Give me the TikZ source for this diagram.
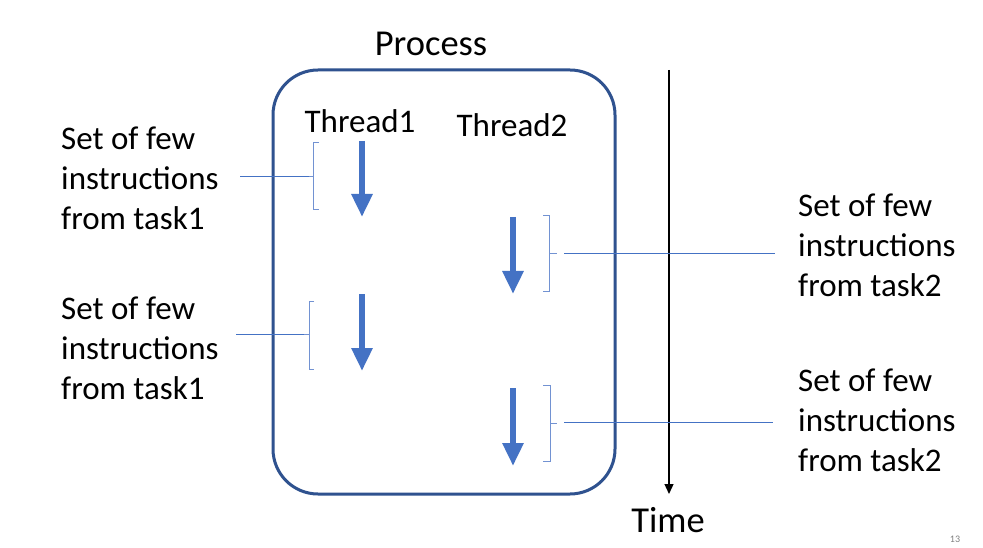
\documentclass[tikz,border=0pt]{standalone}
\usepackage{fontspec}
\setmainfont{Carlito}
\usetikzlibrary{arrows.meta}

\definecolor{boxblue}{RGB}{47,82,143}
\definecolor{arrowblue}{RGB}{68,114,196}
\definecolor{bracketblue}{RGB}{114,146,210}

\tikzset{
  label text/.style={inner sep=0pt, font=\fontsize{33}{40}\selectfont},
  title text/.style={inner sep=0pt, font=\fontsize{36.5}{44}\selectfont},
  task text/.style={label text, anchor=west, align=left},
  thread arrow/.style={color=arrowblue, line width=6pt, -{Triangle[width=20pt,length=23pt]}},
  bracket/.style={color=bracketblue, line width=0.9pt},
  pointer/.style={color=arrowblue, line width=0.9pt},
}

\begin{document}
\begin{tikzpicture}[scale=1.000000,x=1pt,y=-1pt]
\useasboundingbox[fill=white] (0.000000, 0.000000) rectangle (983.000000, 548.000000);
% Drawing process box
\node[title text] (process) at (431.000000, 44.000000) {Process};
\draw[color=boxblue, line width=3pt, rounded corners=45pt] (273.000000, 70.000000) rectangle (615.000000, 494.000000);
\node[label text] (thread1) at (360.000000, 121.000000) {Thread1};
\node[label text] (thread2) at (512.000000, 125.000000) {Thread2};
% Drawing time axis
\coordinate (timetop) at (669.000000, 70.000000);
\coordinate (timebot) at (669.000000, 494.000000);
\draw[color=black, line width=1.3pt, -{Triangle[width=9pt,length=10pt]}] (timetop) -- (timebot);
\node[title text] (time) at (668.000000, 520.000000) {Time};
% Drawing thread arrows
% Line 1: thread1 first
\coordinate (a1s) at (362.000000, 141.000000);
\coordinate (a1e) at (362.000000, 217.000000);
\draw[thread arrow] (a1s) -- (a1e);
% Line 2: thread1 second
\coordinate (a2s) at (362.000000, 294.000000);
\coordinate (a2e) at (362.000000, 371.000000);
\draw[thread arrow] (a2s) -- (a2e);
% Line 3: thread2 first
\coordinate (a3s) at (513.000000, 217.000000);
\coordinate (a3e) at (513.000000, 294.000000);
\draw[thread arrow] (a3s) -- (a3e);
% Line 4: thread2 second
\coordinate (a4s) at (513.000000, 388.000000);
\coordinate (a4e) at (513.000000, 466.000000);
\draw[thread arrow] (a4s) -- (a4e);
% Done with arrows; drawing brackets
% Line 5: task1 first
\coordinate (b1) at (309.000000, 176.000000);
\draw[bracket] (319.000000, 142.000000) -- (313.000000, 142.000000) -- (313.000000, 209.000000) -- (319.000000, 209.000000);
\draw[bracket] (313.000000, 176.000000) -- (b1);
% Line 6: task1 second
\coordinate (b2) at (304.000000, 334.000000);
\draw[bracket] (314.000000, 301.000000) -- (309.000000, 301.000000) -- (309.000000, 369.000000) -- (314.000000, 369.000000);
\draw[bracket] (309.000000, 334.000000) -- (b2);
% Line 7: task2 first
\coordinate (b3) at (557.000000, 253.000000);
\draw[bracket] (543.000000, 215.000000) -- (549.000000, 215.000000) -- (549.000000, 291.000000) -- (543.000000, 291.000000);
\draw[bracket] (549.000000, 253.000000) -- (b3);
% Line 8: task2 second
\coordinate (b4) at (557.000000, 423.000000);
\draw[bracket] (543.000000, 385.000000) -- (550.000000, 385.000000) -- (550.000000, 461.000000) -- (543.000000, 461.000000);
\draw[bracket] (550.000000, 423.000000) -- (b4);
% Done with brackets; drawing task labels
\node[task text] (task1a) at (61.000000, 178.000000) {Set of few\\instructions\\from task1};
\node[task text] (task1b) at (61.000000, 348.000000) {Set of few\\instructions\\from task1};
\node[task text] (task2a) at (798.000000, 245.000000) {Set of few\\instructions\\from task2};
\node[task text] (task2b) at (798.000000, 420.000000) {Set of few\\instructions\\from task2};
% Drawing pointers
\coordinate (p1) at (240.000000, 176.000000);
\draw[pointer] (p1) -- (b1);
\coordinate (p2) at (236.000000, 334.000000);
\draw[pointer] (p2) -- (b2);
\coordinate (p3s) at (564.000000, 253.000000);
\coordinate (p3e) at (775.000000, 253.000000);
\draw[pointer] (p3s) -- (p3e);
\coordinate (p4s) at (564.000000, 422.000000);
\coordinate (p4e) at (773.000000, 422.000000);
\draw[pointer] (p4s) -- (p4e);
% Done with pointers
\node[inner sep=0pt, color=gray, font=\fontsize{10}{12}\selectfont] (page) at (955.000000, 539.000000) {13};
\end{tikzpicture}
\end{document}
